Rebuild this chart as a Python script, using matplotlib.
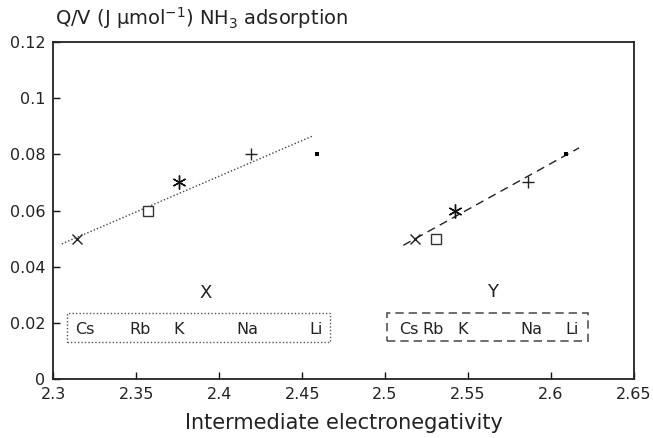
import matplotlib
matplotlib.use("Agg")
import matplotlib.pyplot as plt
from matplotlib.patches import Rectangle

plt.rcParams['font.family'] = ['DejaVu Sans']
plt.rcParams['mathtext.default'] = 'regular'

# Zeolite X: intermediate electronegativity vs Q/V
x_en = [2.314, 2.357, 2.376, 2.419, 2.459]
x_qv = [0.05, 0.06, 0.07, 0.08, 0.08]
# Zeolite Y
y_en = [2.518, 2.531, 2.542, 2.586, 2.609]
y_qv = [0.05, 0.05, 0.06, 0.07, 0.08]

cations = ['Cs', 'Rb', 'K', 'Na', 'Li']

# trend lines (end points)
x_fit_en = [2.305, 2.4566]
x_fit_qv = [0.0481, 0.0866]
y_fit_en = [2.511, 2.617]
y_fit_qv = [0.0476, 0.0823]

# cation label positions inside the legend boxes
x_lab_en = [2.319, 2.352, 2.3753, 2.4172, 2.4583]
y_lab_en = [2.5141, 2.5292, 2.5469, 2.5881, 2.6127]

xticks = [2.3, 2.35, 2.4, 2.45, 2.5, 2.55, 2.6, 2.65]
xticklabels = ['2.3', '2.35', '2.4', '2.45', '2.5', '2.55', '2.6', '2.65']
yticks = [0, 0.02, 0.04, 0.06, 0.08, 0.1, 0.12]
yticklabels = ['0', '0.02', '0.04', '0.06', '0.08', '0.1', '0.12']

TXT = '#222222'

fig = plt.figure(figsize=(6.53, 4.38), dpi=100)
ax = fig.add_axes([0.0819, 0.1347, 0.8886, 0.7694])


def draw_points(ax, en, qv):
    # Cs, Rb, K, Na, Li
    ax.plot(en[0], qv[0], marker='x', ms=7, color='#222222', mew=1.0, ls='none')
    ax.plot(en[1], qv[1], marker='s', ms=6.7, mfc='white', mec='#333333',
            mew=1.0, ls='none')
    ax.plot(en[2], qv[2], marker=(6, 2, 0), ms=10, color='#111111', mew=1.0,
            ls='none')
    ax.plot(en[3], qv[3], marker='+', ms=9, color='#222222', mew=1.0, ls='none')
    ax.plot(en[4], qv[4], marker='s', ms=3, color='black', mew=0, ls='none')


ax.plot(x_fit_en, x_fit_qv, ls=(0, (1, 1.5)), color='#444444', lw=1.0)
ax.plot(y_fit_en, y_fit_qv, ls=(0, (6, 4)), color='#222222', lw=1.0)
draw_points(ax, x_en, x_qv)
draw_points(ax, y_en, y_qv)

# boxes with cation names
ax.add_patch(Rectangle((2.308, 0.0133), 2.4669 - 2.308, 0.0234 - 0.0133,
                       fill=False, ls=(0, (1, 1.5)), ec='#555555', lw=1.0))
ax.add_patch(Rectangle((2.5011, 0.0136), 2.6222 - 2.5011, 0.0234 - 0.0136,
                       fill=False, ls=(0, (5, 3)), ec='#555555', lw=1.2))
for xv, name in zip(x_lab_en, cations):
    ax.text(xv, 0.0177, name, ha='center', va='center', fontsize=11.5, color=TXT)
for xv, name in zip(y_lab_en, cations):
    ax.text(xv, 0.0177, name, ha='center', va='center', fontsize=11.5, color=TXT)
ax.text(2.3915, 0.0306, 'X', ha='center', va='center', fontsize=13, color=TXT)
ax.text(2.5646, 0.031, 'Y', ha='center', va='center', fontsize=13, color=TXT)

ax.set_xlim(2.3, 2.65)
ax.set_ylim(0, 0.12)
ax.set_xticks(xticks)
ax.set_xticklabels(xticklabels)
ax.set_yticks(yticks)
ax.set_yticklabels(yticklabels)
ax.tick_params(direction='in', length=5, width=1, labelsize=11.5, pad=6,
               colors='#111111', labelcolor=TXT)
for s in ax.spines.values():
    s.set_linewidth(1.3)
    s.set_color('#222222')

ax.set_xlabel('Intermediate electronegativity', fontsize=15, labelpad=8,
              color=TXT)
fig.text(0.084, 0.958, r'Q/V (J µmol$^{-1}$) NH$_3$ adsorption', fontsize=14,
         ha='left', va='center', color=TXT)

fig.savefig('out.png', dpi=100)
